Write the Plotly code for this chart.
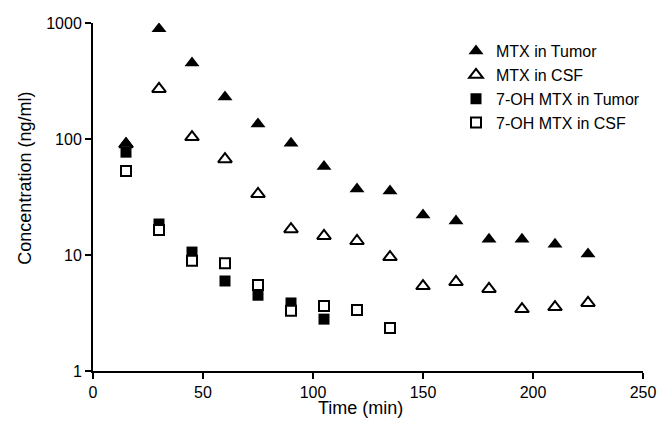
import plotly.graph_objects as go

time_mtx = [15, 30, 45, 60, 75, 90, 105, 120, 135, 150, 165, 180, 195, 210, 225]
mtx_tumor = [92, 890, 452, 230, 135, 92, 58, 37, 35.6, 22.1, 19.6, 13.7, 13.7, 12.4, 10.2]
mtx_csf = [90, 270, 104, 67, 33.6, 16.7, 14.6, 13.2, 9.6, 5.4, 5.85, 5.1, 3.42, 3.56, 3.86]

time_oh_tumor = [15, 30, 45, 60, 75, 90, 105]
oh_tumor = [77, 18.5, 10.6, 5.97, 4.5, 3.86, 2.8]
time_oh_csf = [15, 30, 45, 60, 75, 90, 105, 120, 135]
oh_csf = [53, 16.4, 8.9, 8.5, 5.5, 3.3, 3.63, 3.36, 2.35]

x_ticks = [0, 50, 100, 150, 200, 250]
y_ticks = [1, 10, 100, 1000]

FONT = "Liberation Sans, Arial, sans-serif"

fig = go.Figure()
fig.add_trace(go.Scatter(
    x=time_mtx, y=mtx_csf, mode="markers", name="MTX in CSF", legendrank=2,
    marker=dict(symbol="triangle-up", size=12, color="white",
                line=dict(color="black", width=2))))
fig.add_trace(go.Scatter(
    x=time_oh_tumor, y=oh_tumor, mode="markers", name="7-OH MTX in Tumor", legendrank=3,
    marker=dict(symbol="square", size=11, color="black",
                line=dict(color="black", width=0))))
fig.add_trace(go.Scatter(
    x=time_oh_csf, y=oh_csf, mode="markers", name="7-OH MTX in CSF", legendrank=4,
    marker=dict(symbol="square", size=10, color="white",
                line=dict(color="black", width=2))))
fig.add_trace(go.Scatter(
    x=time_mtx, y=mtx_tumor, mode="markers", name="MTX in Tumor", legendrank=1,
    marker=dict(symbol="triangle-up", size=13, color="black",
                line=dict(color="black", width=0))))

fig.update_layout(
    width=657, height=414,
    margin=dict(l=85, r=22, t=15, b=51, autoexpand=False),
    paper_bgcolor="white", plot_bgcolor="white",
    font=dict(family=FONT, size=16, color="black"),
    showlegend=True,
    legend=dict(x=0.66, y=0.968, xanchor="left", yanchor="top",
                bgcolor="rgba(0,0,0,0)", font=dict(size=16),
                itemwidth=30, tracegroupgap=0),
    xaxis=dict(range=[0, 250], tickvals=x_ticks, ticktext=[str(v) for v in x_ticks],
               showline=True, linecolor="black", linewidth=2,
               ticks="outside", ticklen=6, tickwidth=2, tickcolor="black",
               showgrid=False, zeroline=False, automargin=False,
               tickfont=dict(size=16)),
    yaxis=dict(type="log", range=[0, 3], tickvals=y_ticks, ticktext=[str(v) for v in y_ticks],
               showline=True, linecolor="black", linewidth=2,
               ticks="outside", ticklen=6, tickwidth=2, tickcolor="black",
               showgrid=False, zeroline=False, automargin=False,
               tickfont=dict(size=16)),
    annotations=[
        dict(text="Time (min)", xref="paper", yref="paper", x=0.487, y=-0.106,
             xanchor="center", yanchor="middle", showarrow=False,
             font=dict(size=18)),
        dict(text="Concentration (ng/ml)", xref="paper", yref="paper", x=-0.124, y=0.555,
             xanchor="center", yanchor="middle", showarrow=False, textangle=-90,
             font=dict(size=18)),
    ],
)

fig.write_html("out.html")
